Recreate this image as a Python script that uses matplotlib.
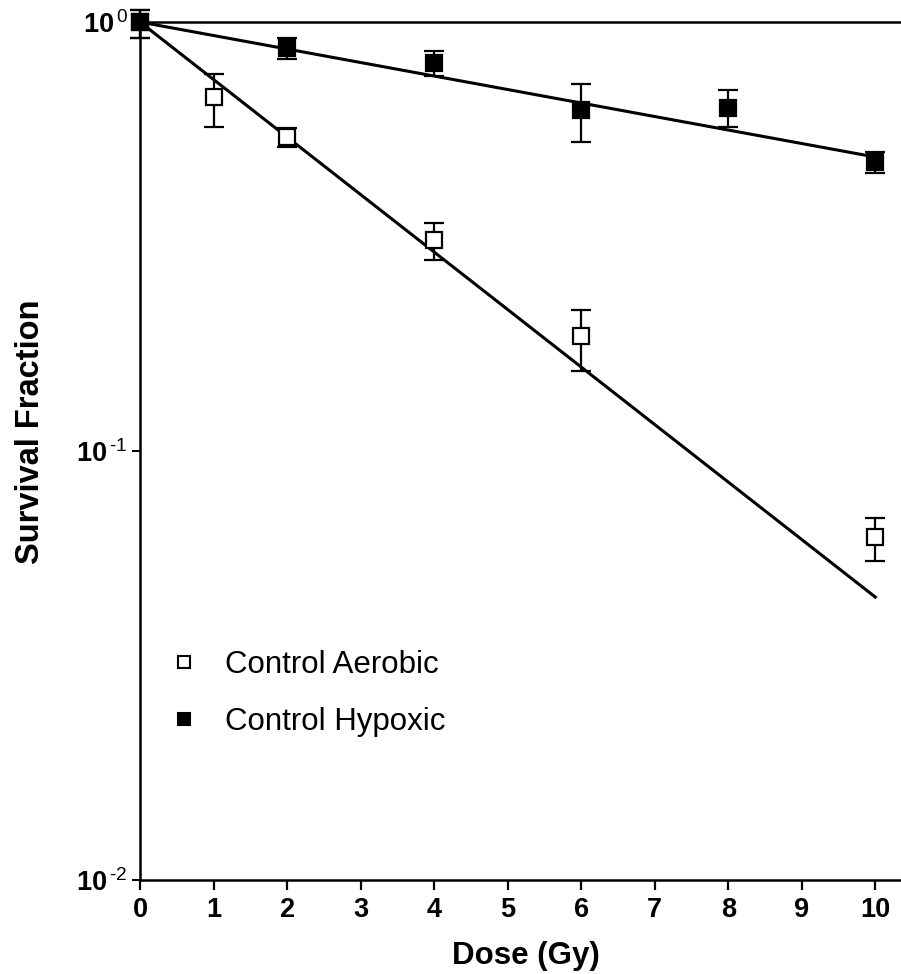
import numpy as np
import matplotlib.pyplot as plt

plt.rcParams['font.family'] = ['Liberation Sans', 'DejaVu Sans']
plt.rcParams['mathtext.fontset'] = 'custom'
plt.rcParams['mathtext.rm'] = 'Liberation Sans'
plt.rcParams['mathtext.it'] = 'Liberation Sans'
plt.rcParams['mathtext.default'] = 'rm'

# Control aerobic: dose (Gy), survival fraction, error bar ends
dose_aer = [0, 1, 2, 4, 6, 10]
sf_aer = [1.0, 0.668, 0.540, 0.311, 0.185, 0.0629]
sf_aer_hi = [1.067, 0.756, 0.567, 0.340, 0.213, 0.0697]
sf_aer_lo = [0.918, 0.570, 0.512, 0.279, 0.154, 0.0555]

# Control hypoxic
dose_hyp = [0, 2, 4, 6, 8, 10]
sf_hyp = [1.0, 0.868, 0.801, 0.624, 0.631, 0.472]
sf_hyp_hi = [1.067, 0.916, 0.856, 0.717, 0.694, 0.497]
sf_hyp_lo = [0.918, 0.818, 0.748, 0.526, 0.570, 0.445]

# fitted D0 (Gy) for the single exponential lines
d0_aer = 3.24
d0_hyp = 13.8

xticks = list(range(0, 11))
yticks = [0.01, 0.1, 1.0]
ytick_labels = ['10$^{\\,\\text{-2}}$', '10$^{\\,\\text{-1}}$', '10$^{\\,\\text{0}}$']

fig = plt.figure(figsize=(9.01, 9.74), dpi=100)
ax = fig.add_axes([0.1554, 0.0965, 0.8446, 0.8809])

dd = np.linspace(0, 10, 200)
ax.plot(dd, np.exp(-dd / d0_aer), color='black', lw=2.2, zorder=2)
ax.plot(dd, np.exp(-dd / d0_hyp), color='black', lw=2.2, zorder=2)

def err(sf, lo, hi):
    sf = np.array(sf)
    return [sf - np.array(lo), np.array(hi) - sf]

ax.errorbar(dose_aer, sf_aer, yerr=err(sf_aer, sf_aer_lo, sf_aer_hi), fmt='s',
            mfc='white', mec='black', mew=1.6, ms=11, ecolor='black',
            elinewidth=1.6, capsize=7, capthick=1.6, clip_on=False, zorder=3)
ax.errorbar(dose_hyp, sf_hyp, yerr=err(sf_hyp, sf_hyp_lo, sf_hyp_hi), fmt='s',
            mfc='black', mec='black', mew=1.6, ms=11, ecolor='black',
            elinewidth=1.6, capsize=7, capthick=1.6, clip_on=False, zorder=4)

ax.set_yscale('log')
ax.set_xlim(0, 10.35)
ax.set_ylim(0.01, 1.0)
ax.set_xticks(xticks)
ax.set_xticklabels([str(t) for t in xticks], fontsize=19.5, fontweight='bold')
ax.set_yticks(yticks)
ax.set_yticklabels(ytick_labels, fontsize=19.5, fontweight='bold')
ax.yaxis.set_minor_locator(plt.NullLocator())
ax.tick_params(axis='x', direction='out', length=7, width=1.6, pad=5)
ax.tick_params(axis='y', direction='out', length=6, width=1.4, pad=3)

for s in ['left', 'bottom', 'top']:
    ax.spines[s].set_linewidth(1.8)
ax.spines['right'].set_visible(False)

ax.set_xlabel('Dose (Gy)', fontsize=22.5, fontweight='bold')
ax.xaxis.set_label_coords(0.507, -0.071)
ax.set_ylabel('Survival Fraction', fontsize=23.5, fontweight='bold')
ax.yaxis.set_label_coords(-0.124, 0.523)

h1 = plt.Line2D([], [], ls='none', marker='s', mfc='white', mec='black', mew=1.5, ms=9)
h2 = plt.Line2D([], [], ls='none', marker='s', mfc='black', mec='black', mew=1.5, ms=9)
ax.legend([h1, h2], ['Control Aerobic', 'Control Hypoxic'], loc='upper left',
          bbox_to_anchor=(0.0375, 0.268), frameon=False, fontsize=22.5,
          handlelength=1.0, handletextpad=0.8, labelspacing=0.85,
          borderpad=0, borderaxespad=0)

fig.savefig('out.png', dpi=100)
